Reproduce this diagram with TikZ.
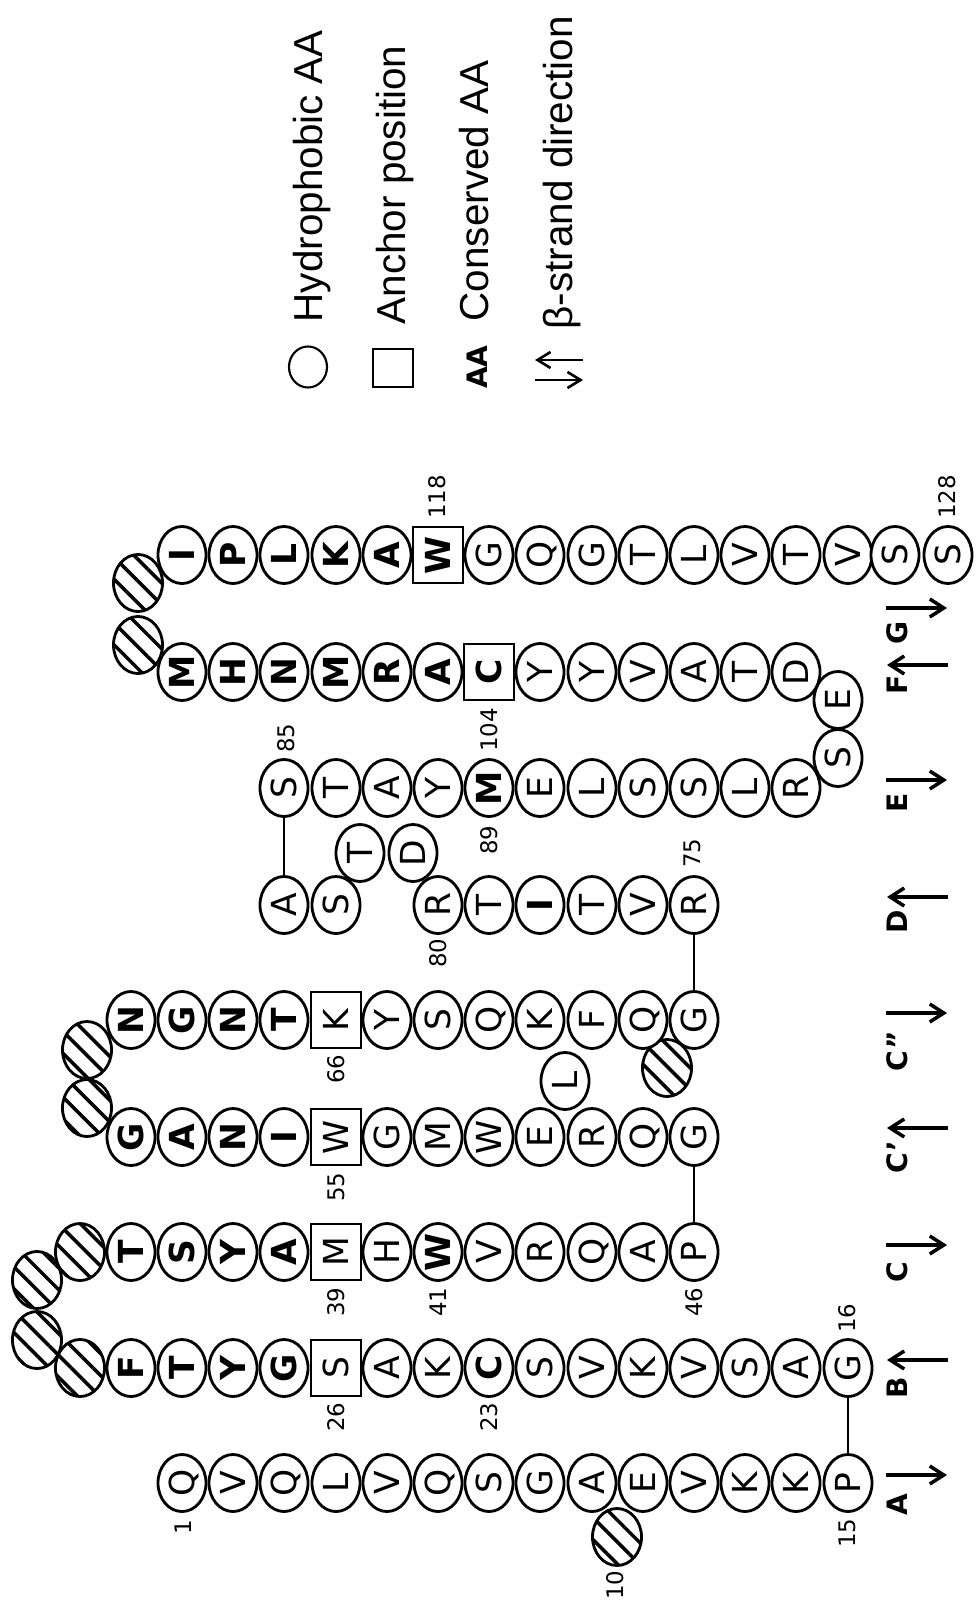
\documentclass[tikz,border=0pt]{standalone}
\usepackage{fontspec}
\setmainfont{DejaVu Sans}
\newfontfamily\legendfont{Liberation Sans}
\usetikzlibrary{positioning,shapes.geometric,arrows.meta,patterns.meta}

\tikzset{
  res/.style={ellipse, draw, line width=0.8pt, fill=white, minimum width=5.7mm, minimum height=4.8mm,
    inner sep=0pt, rotate=90, text height=7.1pt, text depth=0pt, font=\fontsize{9.8}{11}\selectfont},
  anchorbox/.style={rectangle, draw, line width=0.6pt, fill=white, minimum width=5.6mm, minimum height=5.0mm,
    inner sep=0pt, rotate=90, text height=7.1pt, text depth=0pt, font=\fontsize{9.8}{11}\selectfont},
  cons/.style={font=\fontsize{9.8}{11}\selectfont\bfseries},
  gap/.style={ellipse, draw, line width=0.8pt, minimum width=4.9mm, minimum height=5.7mm, inner sep=0pt,
    pattern={Lines[angle=-45, distance=4.4pt, line width=1pt]}},
  num/.style={rotate=90, inner sep=0pt, text height=4.8pt, text depth=0pt, font=\fontsize{6.5}{7}\selectfont},
  strandname/.style={rotate=90, inner sep=0pt, text height=5.8pt, text depth=0pt, font=\fontsize{8}{9}\selectfont\bfseries},
  strandarrow/.style={line width=1pt, -{Straight Barb[length=1.4mm, width=1.8mm]}},
  keyarrow/.style={line width=0.75pt, -{Straight Barb[length=1.3mm, width=1.6mm]}},
  link/.style={line width=0.6pt},
  legendtext/.style={rotate=90, anchor=base west, inner sep=0pt, font=\legendfont\fontsize{11.5}{13}\selectfont}
}

\begin{document}
\begin{tikzpicture}[x=0.01cm, y=-0.01cm]
    \useasboundingbox (0,0) rectangle (979,1603);

    % Gap positions (hatched)
    \node[gap] (g10) at (617,1537) {};
    \node[gap] (g31) at (80,1368) {};
    \node[gap] (g32) at (37,1340) {};
    \node[gap] (g33) at (37,1280) {};
    \node[gap] (g34) at (80,1252) {};
    \node[gap] (g60) at (87,1108) {};
    \node[gap] (g61) at (87,1050) {};
    \node[gap] (g73) at (667,1068) {};
    \node[gap] (g111) at (138,645) {};
    \node[gap] (g112) at (138,583) {};

    % Strand A
    \node[res] (r1) at (182,1483) {Q};
    \node[res] (r2) at (233,1483) {V};
    \node[res] (r3) at (284,1483) {Q};
    \node[res] (r4) at (336,1483) {L};
    \node[res] (r5) at (387,1483) {V};
    \node[res] (r6) at (438,1483) {Q};
    \node[res] (r7) at (489,1483) {S};
    \node[res] (r8) at (540,1483) {G};
    \node[res] (r9) at (592,1483) {A};
    \node[res] (r11) at (643,1483) {E};
    \node[res] (r12) at (694,1483) {V};
    \node[res] (r13) at (745,1483) {K};
    \node[res] (r14) at (796,1483) {K};
    \node[res] (r15) at (848,1483) {P};

    % Strand B
    \node[res] (r16) at (848,1368) {G};
    \node[res] (r17) at (796,1368) {A};
    \node[res] (r18) at (745,1368) {S};
    \node[res] (r19) at (694,1368) {V};
    \node[res] (r20) at (643,1368) {K};
    \node[res] (r21) at (592,1368) {V};
    \node[res] (r22) at (540,1368) {S};
    \node[res,cons] (r23) at (489,1368) {C};
    \node[res] (r24) at (438,1368) {K};
    \node[res] (r25) at (387,1368) {A};
    \node[anchorbox] (r26) at (336,1368) {S};
    \node[res,cons] (r27) at (284,1368) {G};
    \node[res,cons] (r28) at (233,1368) {Y};
    \node[res,cons] (r29) at (182,1368) {T};
    \node[res,cons] (r30) at (131,1368) {F};

    % Strand C
    \node[res,cons] (r35) at (131,1252) {T};
    \node[res,cons] (r36) at (182,1252) {S};
    \node[res,cons] (r37) at (233,1252) {Y};
    \node[res,cons] (r38) at (284,1252) {A};
    \node[anchorbox] (r39) at (336,1252) {M};
    \node[res] (r40) at (387,1252) {H};
    \node[res,cons] (r41) at (438,1252) {W};
    \node[res] (r42) at (489,1252) {V};
    \node[res] (r43) at (540,1252) {R};
    \node[res] (r44) at (592,1252) {Q};
    \node[res] (r45) at (643,1252) {A};
    \node[res] (r46) at (694,1252) {P};

    % Strand C'
    \node[res] (r47) at (694,1137) {G};
    \node[res] (r48) at (643,1137) {Q};
    \node[res] (r49) at (592,1137) {R};
    \node[res] (r51) at (540,1137) {E};
    \node[res] (r50) at (565,1081) {L};
    \node[res] (r52) at (489,1137) {W};
    \node[res] (r53) at (438,1137) {M};
    \node[res] (r54) at (387,1137) {G};
    \node[anchorbox] (r55) at (336,1137) {W};
    \node[res,cons] (r56) at (284,1137) {I};
    \node[res,cons] (r57) at (233,1137) {N};
    \node[res,cons] (r58) at (182,1137) {A};
    \node[res,cons] (r59) at (131,1137) {G};

    % Strand C''
    \node[res,cons] (r62) at (131,1020) {N};
    \node[res,cons] (r63) at (182,1020) {G};
    \node[res,cons] (r64) at (233,1020) {N};
    \node[res,cons] (r65) at (284,1020) {T};
    \node[anchorbox] (r66) at (336,1020) {K};
    \node[res] (r67) at (387,1020) {Y};
    \node[res] (r68) at (438,1020) {S};
    \node[res] (r69) at (489,1020) {Q};
    \node[res] (r70) at (540,1020) {K};
    \node[res] (r71) at (592,1020) {F};
    \node[res] (r72) at (643,1020) {Q};
    \node[res] (r74) at (694,1020) {G};

    % Strand D
    \node[res] (r75) at (694,905) {R};
    \node[res] (r76) at (643,905) {V};
    \node[res] (r77) at (592,905) {T};
    \node[res,cons] (r78) at (540,905) {I};
    \node[res] (r79) at (489,905) {T};
    \node[res] (r80) at (438,905) {R};
    \node[res] (r81) at (413,853) {D};
    \node[res] (r82) at (360,853) {T};
    \node[res] (r83) at (336,905) {S};
    \node[res] (r84) at (284,905) {A};

    % Strand E
    \node[res] (r85) at (284,788) {S};
    \node[res] (r86) at (336,788) {T};
    \node[res] (r87) at (387,788) {A};
    \node[res] (r88) at (438,788) {Y};
    \node[res,cons] (r89) at (489,788) {M};
    \node[res] (r90) at (540,788) {E};
    \node[res] (r91) at (592,788) {L};
    \node[res] (r92) at (643,788) {S};
    \node[res] (r93) at (694,788) {S};
    \node[res] (r94) at (745,788) {L};
    \node[res] (r95) at (796,788) {R};
    \node[res] (r96) at (838,758) {S};
    \node[res] (r97) at (838,700) {E};

    % Strand F
    \node[res] (r98) at (796,672) {D};
    \node[res] (r99) at (745,672) {T};
    \node[res] (r100) at (694,672) {A};
    \node[res] (r101) at (643,672) {V};
    \node[res] (r102) at (592,672) {Y};
    \node[res] (r103) at (540,672) {Y};
    \node[anchorbox,cons] (r104) at (489,672) {C};
    \node[res,cons] (r105) at (438,672) {A};
    \node[res,cons] (r106) at (387,672) {R};
    \node[res,cons] (r107) at (336,672) {M};
    \node[res,cons] (r108) at (284,672) {N};
    \node[res,cons] (r109) at (233,672) {H};
    \node[res,cons] (r110) at (182,672) {M};

    % Strand G
    \node[res,cons] (r113) at (182,555) {I};
    \node[res,cons] (r114) at (233,555) {P};
    \node[res,cons] (r115) at (284,555) {L};
    \node[res,cons] (r116) at (336,555) {K};
    \node[res,cons] (r117) at (387,555) {A};
    \node[anchorbox,cons] (r118) at (438,555) {W};
    \node[res] (r119) at (489,555) {G};
    \node[res] (r120) at (540,555) {Q};
    \node[res] (r121) at (592,555) {G};
    \node[res] (r122) at (643,555) {T};
    \node[res] (r123) at (694,555) {L};
    \node[res] (r124) at (745,555) {V};
    \node[res] (r125) at (796,555) {T};
    \node[res] (r126) at (848,555) {V};
    \node[res] (r127) at (895,555) {S};
    \node[res] (r128) at (948,555) {S};

    % Links between strands
    \draw[link] (r15) -- (r16);
    \draw[link] (r46) -- (r47);
    \draw[link] (r74) -- (r75);
    \draw[link] (r84) -- (r85);

    % Position numbers
    \node[num] (n1) at (183,1527) {1};
    \node[num] (n10) at (615,1585) {10};
    \node[num] (n15) at (847,1533) {15};
    \node[num] (n16) at (847,1318) {16};
    \node[num] (n23) at (489,1417) {23};
    \node[num] (n26) at (336,1417) {26};
    \node[num] (n39) at (336,1302) {39};
    \node[num] (n41) at (438,1302) {41};
    \node[num] (n46) at (694,1302) {46};
    \node[num] (n55) at (336,1187) {55};
    \node[num] (n66) at (336,1069) {66};
    \node[num] (n75) at (692,853) {75};
    \node[num] (n80) at (438,953) {80};
    \node[num] (n85) at (286,738) {85};
    \node[num] (n89) at (489,840) {89};
    \node[num] (n104) at (489,730) {104};
    \node[num] (n118) at (437,497) {118};
    \node[num] (n128) at (947,497) {128};

    % Strand names and directions
    \node[strandname] (sA) at (897,1505) {A};
    \node[strandname] (sB) at (897,1388) {B};
    \node[strandname] (sC) at (897,1272) {C};
    \node[strandname] (sCp) at (897,1157) {C’};
    \node[strandname] (sCpp) at (897,1051) {C”};
    \node[strandname] (sD) at (897,922) {D};
    \node[strandname] (sE) at (897,803) {E};
    \node[strandname] (sF) at (897,685) {F};
    \node[strandname] (sG) at (897,633) {G};

    \coordinate (dA1) at (886,1475);  \coordinate (dA2) at (947,1475);
    \coordinate (dB1) at (948,1360);  \coordinate (dB2) at (887,1360);
    \coordinate (dC1) at (886,1245);  \coordinate (dC2) at (947,1245);
    \coordinate (dCp1) at (948,1128); \coordinate (dCp2) at (887,1128);
    \coordinate (dCpp1) at (886,1013); \coordinate (dCpp2) at (947,1013);
    \coordinate (dD1) at (948,897);   \coordinate (dD2) at (887,897);
    \coordinate (dE1) at (886,780);   \coordinate (dE2) at (947,780);
    \coordinate (dF1) at (948,665);   \coordinate (dF2) at (887,665);
    \coordinate (dG1) at (886,608);   \coordinate (dG2) at (947,608);
    \draw[strandarrow] (dA1) -- (dA2);
    \draw[strandarrow] (dB1) -- (dB2);
    \draw[strandarrow] (dC1) -- (dC2);
    \draw[strandarrow] (dCp1) -- (dCp2);
    \draw[strandarrow] (dCpp1) -- (dCpp2);
    \draw[strandarrow] (dD1) -- (dD2);
    \draw[strandarrow] (dE1) -- (dE2);
    \draw[strandarrow] (dF1) -- (dF2);
    \draw[strandarrow] (dG1) -- (dG2);

    % Legend
    \node[ellipse, draw, line width=0.6pt, minimum width=3.8mm, minimum height=4.1mm, inner sep=0pt] (keyhydro) at (308,367) {};
    \node[rectangle, draw, line width=0.65pt, minimum width=4mm, minimum height=3.8mm, inner sep=0pt] (keyanchor) at (393,368) {};
    \node[rotate=90, inner sep=0pt, font=\fontsize{8}{9}\selectfont\bfseries] (keycons) at (477,367) {AA};
    \coordinate (keyup1) at (583,360); \coordinate (keyup2) at (535,360);
    \coordinate (keydn1) at (535,380); \coordinate (keydn2) at (583,380);
    \draw[keyarrow] (keyup1) -- (keyup2);
    \draw[keyarrow] (keydn1) -- (keydn2);

    \node[legendtext] (txthydro) at (322,323) {Hydrophobic AA};
    \node[legendtext] (txtanchor) at (405,325) {Anchor position};
    \node[legendtext] (txtcons) at (488,322) {Conserved AA};
    \node[legendtext] (txtbeta) at (572,330) {β-strand direction};
\end{tikzpicture}
\end{document}
